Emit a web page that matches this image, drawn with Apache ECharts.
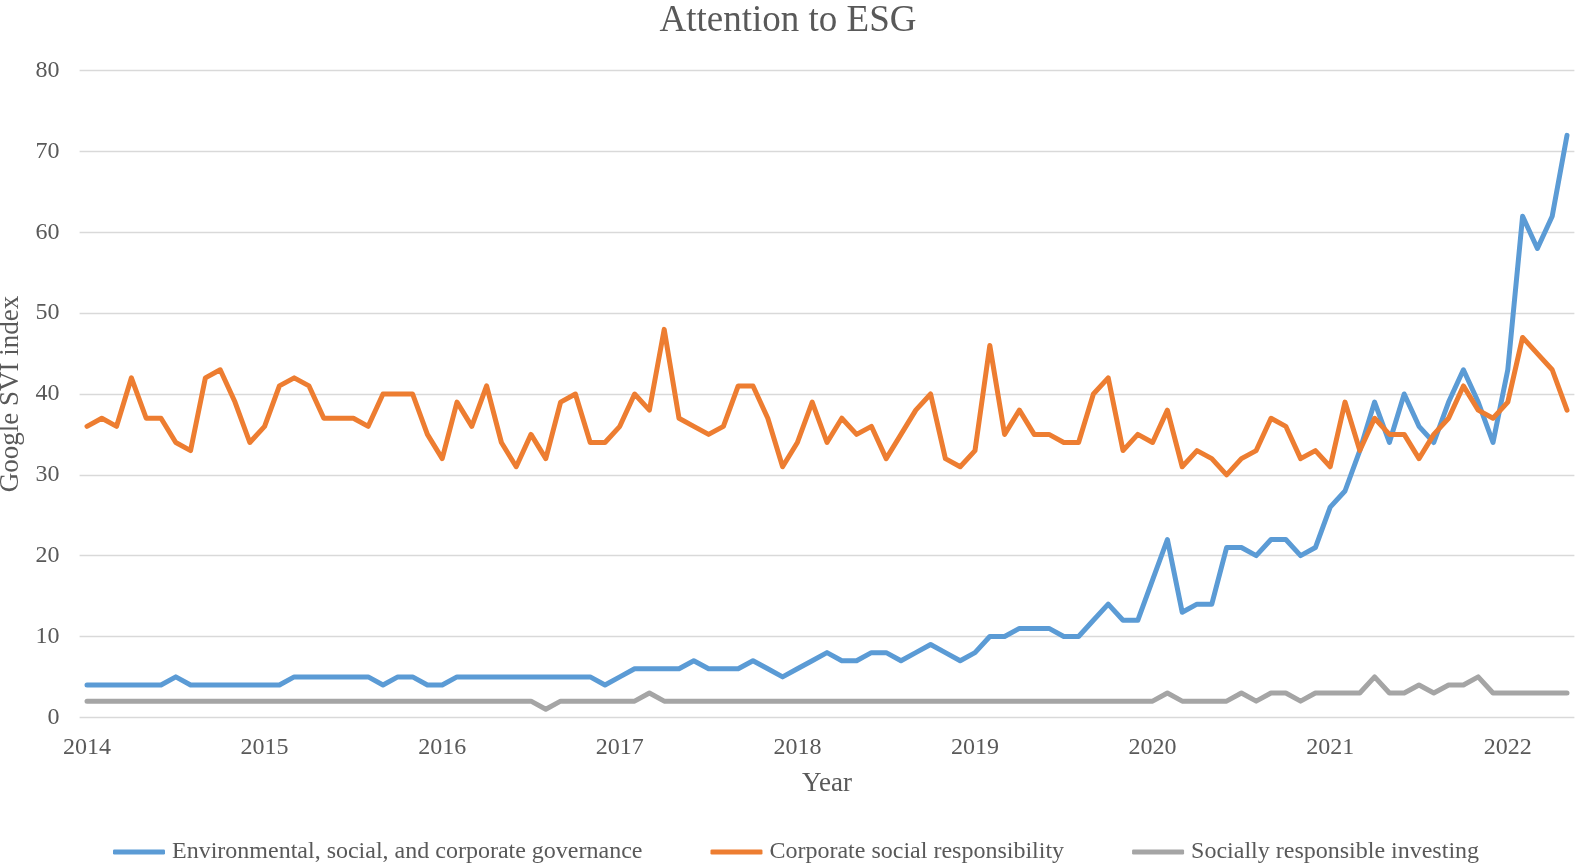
<!DOCTYPE html>
<html>
<head>
<meta charset="utf-8">
<title>Attention to ESG</title>
<script src="https://cdn.jsdelivr.net/npm/echarts@6/dist/echarts.min.js"></script>
<style>
  html, body { margin: 0; padding: 0; background: #ffffff; }
  #chart { width: 1576px; height: 866px; }
</style>
</head>
<body>
<div id="chart"></div>
<script>
// Monthly Google search volume index, Jan 2014 – May 2022
const years = ['2014', '2015', '2016', '2017', '2018', '2019', '2020', '2021', '2022'];
const monthsInLastYear = 5;

const seriesNames = [
  'Environmental, social, and corporate governance',
  'Corporate social responsibility',
  'Socially responsible investing'
];

const esg = [
  4, 4, 4, 4, 4, 4, 5, 4, 4, 4, 4, 4,
  4, 4, 5, 5, 5, 5, 5, 5, 4, 5, 5, 4,
  4, 5, 5, 5, 5, 5, 5, 5, 5, 5, 5, 4,
  5, 6, 6, 6, 6, 7, 6, 6, 6, 7, 6, 5,
  6, 7, 8, 7, 7, 8, 8, 7, 8, 9, 8, 7,
  8, 10, 10, 11, 11, 11, 10, 10, 12, 14, 12, 12,
  17, 22, 13, 14, 14, 21, 21, 20, 22, 22, 20, 21,
  26, 28, 33, 39, 34, 40, 36, 34, 39, 43, 39, 34,
  43, 62, 58, 62, 72
];

const csr = [
  36, 37, 36, 42, 37, 37, 34, 33, 42, 43, 39, 34,
  36, 41, 42, 41, 37, 37, 37, 36, 40, 40, 40, 35,
  32, 39, 36, 41, 34, 31, 35, 32, 39, 40, 34, 34,
  36, 40, 38, 48, 37, 36, 35, 36, 41, 41, 37, 31,
  34, 39, 34, 37, 35, 36, 32, 35, 38, 40, 32, 31,
  33, 46, 35, 38, 35, 35, 34, 34, 40, 42, 33, 35,
  34, 38, 31, 33, 32, 30, 32, 33, 37, 36, 32, 33,
  31, 39, 33, 37, 35, 35, 32, 35, 37, 41, 38, 37,
  39, 47, 45, 43, 38
];

const sri = [
  2, 2, 2, 2, 2, 2, 2, 2, 2, 2, 2, 2,
  2, 2, 2, 2, 2, 2, 2, 2, 2, 2, 2, 2,
  2, 2, 2, 2, 2, 2, 2, 1, 2, 2, 2, 2,
  2, 2, 3, 2, 2, 2, 2, 2, 2, 2, 2, 2,
  2, 2, 2, 2, 2, 2, 2, 2, 2, 2, 2, 2,
  2, 2, 2, 2, 2, 2, 2, 2, 2, 2, 2, 2,
  2, 3, 2, 2, 2, 2, 3, 2, 3, 3, 2, 3,
  3, 3, 3, 5, 3, 3, 4, 3, 4, 4, 5, 3,
  3, 3, 3, 3, 3
];

const colors = ['#5B9BD5', '#ED7D31', '#A5A5A5'];
const textColor = '#595959';
const fontFamily = '"Liberation Serif", "Times New Roman", serif';

// One category per month, labelled "YYYY-MM"
const months = [];
years.forEach((y, yi) => {
  const n = yi === years.length - 1 ? monthsInLastYear : 12;
  for (let m = 1; m <= n; m++) months.push(y + '-' + String(m).padStart(2, '0'));
});

const chart = echarts.init(document.getElementById('chart'), null, { renderer: 'canvas' });

function lineSeries(name, data, color) {
  return {
    name: name,
    type: 'line',
    data: data,
    symbol: 'none',
    smooth: false,
    color: color,
    lineStyle: { color: color, width: 5, cap: 'round', join: 'round' },
    emphasis: { disabled: true },
    animation: false
  };
}

chart.setOption({
  backgroundColor: '#ffffff',
  animation: false,
  title: {
    text: 'Attention to ESG',
    left: 'center',
    top: -2,
    textStyle: { fontFamily: fontFamily, fontSize: 37, fontWeight: 'normal', color: textColor }
  },
  legend: {
    top: 840,
    left: 113,
    padding: 0,
    itemWidth: 52,
    itemHeight: 5,
    itemGap: 68,
    icon: 'roundRect',
    textStyle: { fontFamily: fontFamily, fontSize: 24, color: textColor, padding: [0, 0, 0, 2] },
    data: seriesNames
  },
  grid: {
    left: 79.6,
    right: 1.6,
    top: 70.7,
    bottom: 148.7,
    containLabel: false,
    outerBoundsMode: 'none'
  },
  xAxis: {
    type: 'category',
    data: months,
    boundaryGap: true,
    name: 'Year',
    nameLocation: 'middle',
    nameGap: 53,
    nameTextStyle: { fontFamily: fontFamily, fontSize: 27, color: textColor },
    axisLine: { show: false },
    axisTick: { show: false },
    axisLabel: {
      interval: (index) => index % 12 === 0,
      formatter: (value) => value.slice(0, 4),
      margin: 18,
      fontFamily: fontFamily,
      fontSize: 24,
      color: textColor
    },
    splitLine: { show: false }
  },
  yAxis: {
    type: 'value',
    min: 0,
    max: 80,
    interval: 10,
    name: 'Google SVI index',
    nameLocation: 'middle',
    nameGap: 51,
    nameTextStyle: { fontFamily: fontFamily, fontSize: 27, color: textColor },
    axisLine: { show: false },
    axisTick: { show: false },
    axisLabel: {
      margin: 20,
      fontFamily: fontFamily,
      fontSize: 24,
      color: textColor
    },
    splitLine: { lineStyle: { color: '#D9D9D9', width: 1.3 } }
  },
  series: [
    lineSeries(seriesNames[0], esg, colors[0]),
    lineSeries(seriesNames[1], csr, colors[1]),
    lineSeries(seriesNames[2], sri, colors[2])
  ]
});
</script>
</body>
</html>
